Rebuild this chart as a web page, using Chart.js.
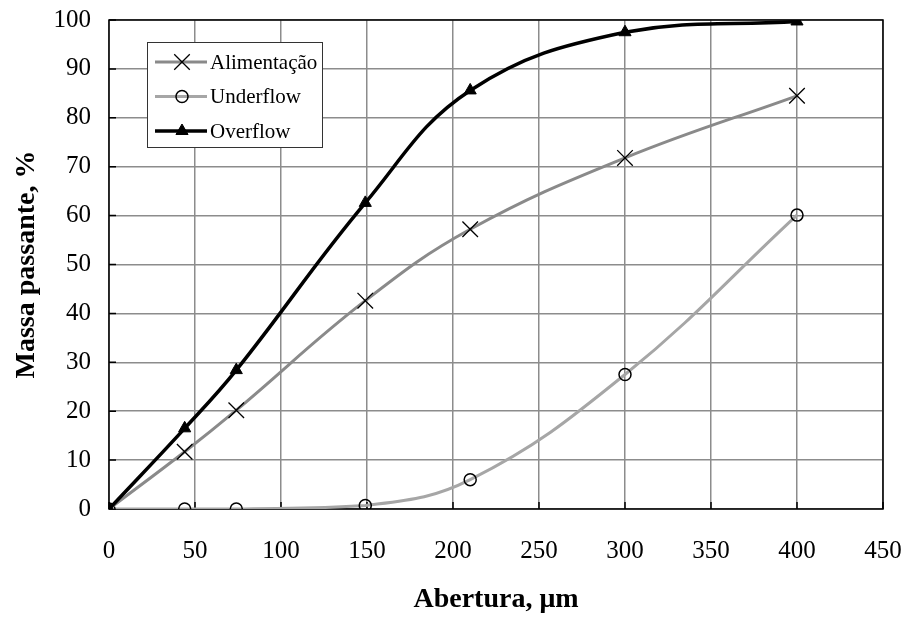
<!DOCTYPE html>
<html>
<head>
<meta charset="utf-8">
<script src="https://cdn.jsdelivr.net/npm/chart.js@4/dist/chart.umd.min.js"></script>
<style>
  html, body { margin: 0; padding: 0; background: #fff; }
  #wrap { width: 906px; height: 619px; }
</style>
</head>
<body>
<div id="wrap"><canvas id="chart" width="906" height="619"></canvas></div>
<script>
// abertura (um) e massa passante (%)
const aberturas = [0, 44, 74, 149, 210, 300, 400];
const alimentacao = [0, 11.7, 20.2, 42.6, 57.2, 71.8, 84.5];
const underflow = [0, 0, 0, 0.7, 6.0, 27.5, 60.1];
const overflow = [0, 16.5, 28.4, 62.6, 85.6, 97.5, 99.7];
const xTicks = [0, 50, 100, 150, 200, 250, 300, 350, 400, 450];

const serif = "'Liberation Serif', 'Times New Roman', serif";

const toPoints = (vals) => aberturas.map((x, i) => ({ x: x, y: vals[i] }));

// legenda dentro da area do grafico, estilo Excel
const boxLegend = {
  id: 'boxLegend',
  afterDraw(chart) {
    const ctx = chart.ctx;
    const x0 = 147, y0 = 42, w = 175, h = 105;
    ctx.save();
    ctx.fillStyle = '#fff';
    ctx.fillRect(x0, y0, w, h);
    ctx.strokeStyle = '#333';
    ctx.lineWidth = 1;
    ctx.strokeRect(x0 + 0.5, y0 + 0.5, w, h);
    // ordem: Alimentação, Underflow, Overflow
    [1, 2, 0].forEach((di, i) => {
      const ds = chart.data.datasets[di];
      const y = y0 + 20 + i * 34.5;
      ctx.strokeStyle = ds.borderColor;
      ctx.lineWidth = ds.borderWidth;
      ctx.beginPath();
      ctx.moveTo(x0 + 8, y);
      ctx.lineTo(x0 + 60, y);
      ctx.stroke();
      ctx.fillStyle = ds.pointBackgroundColor;
      ctx.strokeStyle = ds.pointBorderColor;
      ctx.lineWidth = ds.pointBorderWidth;
      Chart.helpers.drawPoint(ctx, {
        pointStyle: ds.pointStyle,
        radius: ds.pointRadius,
        borderWidth: ds.pointBorderWidth
      }, x0 + 35, y);
      ctx.fillStyle = '#000';
      ctx.font = '21px ' + serif;
      ctx.textBaseline = 'middle';
      ctx.fillText(ds.label, x0 + 63, y + 1);
    });
    ctx.restore();
  }
};

// moldura preta e marcas de escala para dentro
const frame = {
  id: 'frame',
  beforeDatasetsDraw(chart) {
    const { ctx, chartArea: a, scales } = chart;
    ctx.save();
    ctx.strokeStyle = '#000';
    ctx.lineWidth = 1.5;
    ctx.strokeRect(a.left, a.top, a.right - a.left, a.bottom - a.top);
    ctx.beginPath();
    xTicks.forEach((v) => {
      const px = scales.x.getPixelForValue(v);
      ctx.moveTo(px, a.bottom);
      ctx.lineTo(px, a.bottom - 7);
    });
    for (let v = 0; v <= 100; v += 10) {
      const py = scales.y.getPixelForValue(v);
      ctx.moveTo(a.left, py);
      ctx.lineTo(a.left + 7, py);
    }
    ctx.stroke();
    ctx.restore();
  }
};

new Chart(document.getElementById('chart'), {
  type: 'line',
  data: {
    datasets: [
      {
        label: 'Overflow',
        data: toPoints(overflow),
        borderColor: '#000',
        borderWidth: 3.5,
        pointStyle: 'triangle',
        pointRadius: 7,
        pointBackgroundColor: '#000',
        pointBorderColor: '#000',
        pointBorderWidth: 1,
        tension: 0.4,
        order: 0
      },
      {
        label: 'Alimentação',
        data: toPoints(alimentacao),
        borderColor: '#8a8a8a',
        borderWidth: 3,
        pointStyle: 'crossRot',
        pointRadius: 11,
        pointBackgroundColor: '#000',
        pointBorderColor: '#000',
        pointBorderWidth: 1.3,
        tension: 0.4,
        order: 1
      },
      {
        label: 'Underflow',
        data: toPoints(underflow),
        borderColor: '#a6a6a6',
        borderWidth: 3,
        pointStyle: 'circle',
        pointRadius: 6,
        pointBackgroundColor: 'rgba(255,255,255,0)',
        pointBorderColor: '#000',
        pointBorderWidth: 1.5,
        tension: 0.4,
        order: 2
      }
    ]
  },
  options: {
    responsive: false,
    animation: false,
    events: [],
    layout: { padding: { top: 20, right: 23, left: 0, bottom: 0 } },
    plugins: { legend: { display: false }, tooltip: { enabled: false } },
    scales: {
      x: {
        type: 'linear',
        min: 0,
        max: 450,
        afterBuildTicks: (s) => { s.ticks = xTicks.map((v) => ({ value: v })); },
        afterFit: (s) => {
          s.height = 110;
          s.paddingLeft = 0;
          s.paddingRight = 0;
        },
        grid: { color: '#8c8c8c', lineWidth: 1.5, drawTicks: false },
        border: { display: false },
        ticks: { color: '#000', padding: 27, font: { family: serif, size: 25 } },
        title: {
          display: true,
          text: 'Abertura, μm',
          color: '#000',
          padding: { top: 0, bottom: 2 },
          font: { family: serif, size: 28, weight: 'bold' }
        }
      },
      y: {
        min: 0,
        max: 100,
        afterFit: (s) => {
          s.width = 109;
          s.paddingTop = 0;
          s.paddingBottom = 0;
        },
        grid: { color: '#8c8c8c', lineWidth: 1.5, drawTicks: false },
        border: { display: false },
        ticks: { stepSize: 10, color: '#000', padding: 18, font: { family: serif, size: 25 } },
        title: {
          display: true,
          text: 'Massa passante, %',
          color: '#000',
          padding: { top: 10, bottom: 0 },
          font: { family: serif, size: 28, weight: 'bold' }
        }
      }
    }
  },
  plugins: [frame, boxLegend]
});
</script>
</body>
</html>
